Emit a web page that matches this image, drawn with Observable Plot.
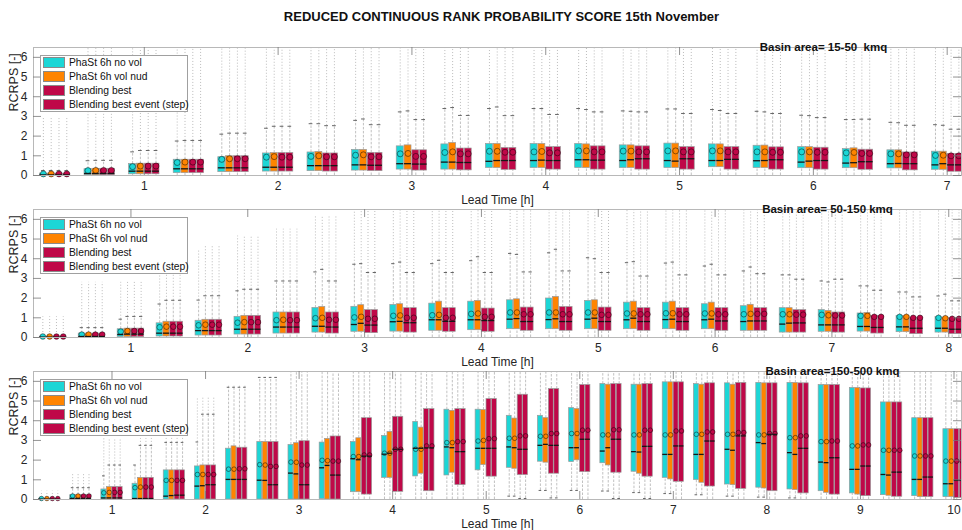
<!DOCTYPE html>
<html><head><meta charset="utf-8">
<script src="https://cdn.jsdelivr.net/npm/d3@7"></script>
<script src="https://cdn.jsdelivr.net/npm/@observablehq/plot@0.6"></script>
<style>
body{margin:0;background:#fff;font-family:"Liberation Sans",Arial,Helvetica,sans-serif;}
#chart{position:relative;width:962px;height:530px;overflow:hidden;background:#fff;}
#title{height:32px;line-height:34px;font-weight:bold;font-size:13px;text-align:center;padding-left:41px;box-sizing:border-box;color:#111;}
.panel{position:relative;width:962px;height:162px;}
.panel svg{position:absolute;left:0;top:0;}
.legend{position:absolute;left:40px;top:23px;width:146px;height:55px;background:#fff;border:1px solid #a0a0a0;font-size:10.3px;color:#111;z-index:2;}
.legend .row{position:absolute;left:2px;height:14px;display:flex;align-items:center;white-space:nowrap;}
.legend .sw{width:20px;height:9px;border:1px solid #8a8a8a;margin-right:4px;}
</style></head>
<body>
<div id="chart"><div id="title">REDUCED CONTINUOUS RANK PROBABILITY SCORE 15th November</div></div>
<script>
const SERIES = ["PhaSt 6h no vol","PhaSt 6h vol nud","Blending best","Blending best event (step)"];
const COLORS = ["#1cd6d6","#ff8400","#bf0848","#bf0848"];
const YTICKS = [0,1,2,3,4,5,6];
const BASINS = ["Basin area= 15-50  kmq","Basin area= 50-150 kmq","Basin area=150-500 kmq"];

// lead times (minutes) of each group of boxes
const P1_LEAD = [20,40,60,80,100,120,140,160,180,200,220,240,260,280,300,320,340,360,380,400,420];
const P2_LEAD = [20,40,60,80,100,120,140,160,180,200,220,240,260,280,300,320,340,360,380,400,420,440,460,480];
const P3_LEAD = [20,40,60,80,100,120,140,160,180,200,220,240,260,280,300,320,340,360,380,400,420,440,460,480,500,520,540,560,580,600];
const P1_HOURS = [1,2,3,4,5,6,7];
const P2_HOURS = [1,2,3,4,5,6,7,8];
const P3_HOURS = [1,2,3,4,5,6,7,8,9,10];

// ---- Panel 1 : Basin area 15-50 kmq ; each row [no vol, vol nud, blending best, blending best event]
const P1_Q1 = [[0,0,0,0],[0.02,0.02,0.02,0.02],[0.06,0.06,0.06,0.06],[0.12,0.12,0.12,0.12],[0.17,0.17,0.17,0.17],[0.2,0.2,0.2,0.2],[0.22,0.22,0.2,0.2],[0.25,0.25,0.22,0.22],[0.3,0.3,0.25,0.25],[0.3,0.3,0.26,0.26],[0.38,0.38,0.28,0.28],[0.38,0.38,0.3,0.3],[0.38,0.38,0.3,0.3],[0.38,0.38,0.3,0.3],[0.38,0.38,0.3,0.3],[0.42,0.42,0.3,0.3],[0.38,0.38,0.3,0.3],[0.37,0.37,0.3,0.3],[0.37,0.37,0.29,0.29],[0.36,0.36,0.26,0.26],[0.29,0.29,0.19,0.19]];
const P1_MED = [[0.03,0.03,0.03,0.03],[0.1,0.1,0.1,0.1],[0.22,0.22,0.22,0.22],[0.34,0.34,0.34,0.34],[0.39,0.39,0.39,0.39],[0.42,0.42,0.42,0.42],[0.5,0.5,0.5,0.5],[0.54,0.54,0.52,0.52],[0.6,0.6,0.58,0.58],[0.68,0.68,0.66,0.66],[0.72,0.76,0.76,0.76],[0.76,0.78,0.76,0.76],[0.8,0.8,0.78,0.78],[0.76,0.8,0.85,0.85],[0.76,0.73,0.85,0.85],[0.76,0.76,0.82,0.82],[0.75,0.76,0.8,0.8],[0.68,0.73,0.76,0.76],[0.63,0.65,0.7,0.7],[0.6,0.61,0.6,0.6],[0.54,0.6,0.54,0.54]];
const P1_Q3 = [[0.1,0.1,0.1,0.1],[0.32,0.34,0.34,0.34],[0.58,0.6,0.6,0.6],[0.8,0.8,0.8,0.8],[0.93,0.98,0.98,0.98],[1.12,1.14,1.14,1.14],[1.17,1.2,1.12,1.12],[1.3,1.3,1.15,1.15],[1.48,1.53,1.28,1.28],[1.58,1.65,1.37,1.37],[1.6,1.6,1.4,1.4],[1.6,1.6,1.44,1.44],[1.6,1.58,1.48,1.48],[1.53,1.53,1.48,1.48],[1.62,1.62,1.44,1.44],[1.58,1.58,1.44,1.44],[1.51,1.52,1.43,1.43],[1.44,1.44,1.41,1.41],[1.34,1.38,1.31,1.31],[1.28,1.28,1.17,1.17],[1.21,1.21,1.1,1.1]];
const P1_MEAN = [[0.08,0.08,0.08,0.08],[0.25,0.26,0.26,0.26],[0.45,0.48,0.48,0.48],[0.66,0.68,0.68,0.68],[0.82,0.85,0.85,0.85],[0.93,0.96,0.93,0.93],[0.97,1.0,0.95,0.95],[1.03,1.05,0.95,0.95],[1.1,1.12,0.97,0.97],[1.17,1.2,1.1,1.1],[1.23,1.23,1.18,1.18],[1.2,1.22,1.15,1.15],[1.25,1.25,1.2,1.2],[1.24,1.24,1.2,1.2],[1.25,1.25,1.2,1.2],[1.25,1.25,1.2,1.2],[1.2,1.2,1.18,1.18],[1.2,1.2,1.18,1.18],[1.15,1.17,1.12,1.12],[1.1,1.1,1.05,1.05],[1.02,1.03,1.0,1.0]];
const P1_HI = [[0.25,0.25,0.25,0.25],[0.75,0.77,0.77,0.77],[1.2,1.27,1.27,1.27],[1.75,1.78,1.78,1.78],[2.1,2.15,2.15,2.15],[2.4,2.5,2.5,2.5],[2.63,2.63,2.53,2.53],[2.8,2.87,2.58,2.58],[3.23,3.28,2.84,2.84],[3.4,3.45,3.05,3.05],[3.4,3.48,3.04,3.04],[3.4,3.4,3.1,3.1],[3.4,3.35,3.23,3.23],[3.28,3.26,3.23,3.23],[3.38,3.38,3.15,3.15],[3.35,3.3,3.15,3.15],[3.26,3.23,3.15,3.15],[3.06,3.04,2.94,2.94],[2.84,2.84,2.86,2.86],[2.7,2.68,2.55,2.55],[2.58,2.55,2.35,2.35]];
const P1_MAX = [[2.9,2.9,2.9,2.9],[7,7,7,7],[7,7,7,7],[7,7,7,7],[7,7,7,7],[7,7,7,7],[7,7,7,7],[7,7,7,7],[7,7,7,7],[7,7,7,7],[7,7,7,7],[7,7,7,7],[7,7,7,7],[7,7,7,7],[7,7,7,7],[7,7,7,7],[7,7,7,7],[7,7,7,7],[7,7,7,7],[7,7,7,7],[7,7,7,7]];

// ---- Panel 2 : Basin area 50-150 kmq
const P2_Q1 = [[0,0,0,0],[0,0,0,0],[0.02,0.02,0.02,0.02],[0.05,0.05,0.05,0.05],[0.1,0.1,0.1,0.1],[0.15,0.15,0.15,0.15],[0.2,0.2,0.2,0.2],[0.25,0.25,0.2,0.2],[0.29,0.29,0.22,0.22],[0.3,0.3,0.25,0.25],[0.34,0.34,0.29,0.29],[0.37,0.37,0.29,0.29],[0.42,0.42,0.34,0.34],[0.42,0.42,0.34,0.34],[0.42,0.42,0.34,0.34],[0.42,0.42,0.34,0.34],[0.42,0.42,0.34,0.34],[0.42,0.42,0.34,0.34],[0.34,0.34,0.34,0.34],[0.25,0.25,0.25,0.25],[0.29,0.29,0.25,0.25],[0.3,0.3,0.2,0.2],[0.27,0.27,0.17,0.17],[0.25,0.25,0.17,0.17]];
const P2_MED = [[0.02,0.02,0.02,0.02],[0.05,0.05,0.05,0.05],[0.15,0.17,0.17,0.17],[0.22,0.22,0.22,0.22],[0.35,0.35,0.35,0.35],[0.42,0.42,0.42,0.42],[0.53,0.53,0.53,0.53],[0.57,0.57,0.53,0.53],[0.66,0.72,0.63,0.63],[0.8,0.82,0.75,0.75],[0.9,0.9,0.82,0.82],[0.9,0.9,0.86,0.86],[0.93,0.96,0.81,0.81],[0.91,0.95,0.81,0.81],[0.93,0.98,0.81,0.81],[0.9,0.98,0.81,0.81],[0.91,0.93,0.81,0.81],[0.9,0.93,0.84,0.84],[0.81,0.84,0.84,0.84],[0.68,0.73,0.74,0.74],[0.64,0.64,0.64,0.64],[0.56,0.56,0.51,0.51],[0.54,0.54,0.47,0.47],[0.47,0.47,0.42,0.42]];
const P2_Q3 = [[0.05,0.05,0.05,0.05],[0.2,0.2,0.2,0.2],[0.42,0.45,0.45,0.45],[0.72,0.8,0.8,0.8],[0.85,0.9,0.9,0.9],[1.05,1.1,1.1,1.1],[1.27,1.27,1.27,1.27],[1.5,1.55,1.27,1.27],[1.56,1.64,1.39,1.39],[1.65,1.69,1.49,1.49],[1.72,1.82,1.49,1.49],[1.82,1.86,1.47,1.47],[1.89,1.94,1.52,1.52],[1.98,2.06,1.55,1.55],[1.86,1.89,1.52,1.52],[1.77,1.82,1.49,1.49],[1.77,1.82,1.49,1.49],[1.69,1.77,1.49,1.49],[1.59,1.66,1.49,1.49],[1.49,1.49,1.39,1.39],[1.39,1.35,1.27,1.27],[1.22,1.25,1.1,1.1],[1.1,1.1,1.01,1.01],[1.05,1.01,0.98,0.98]];
const P2_MEAN = [[0.05,0.05,0.05,0.05],[0.15,0.15,0.15,0.15],[0.3,0.33,0.33,0.33],[0.52,0.55,0.55,0.55],[0.62,0.65,0.65,0.65],[0.75,0.78,0.78,0.78],[0.88,0.9,0.88,0.88],[0.98,1.0,0.9,0.9],[1.02,1.05,0.95,0.95],[1.1,1.12,1.0,1.0],[1.13,1.15,1.0,1.0],[1.2,1.22,1.05,1.05],[1.27,1.27,1.18,1.18],[1.27,1.27,1.18,1.18],[1.27,1.27,1.15,1.15],[1.22,1.22,1.18,1.18],[1.23,1.23,1.18,1.18],[1.22,1.22,1.18,1.18],[1.18,1.2,1.2,1.2],[1.18,1.18,1.16,1.16],[1.15,1.13,1.12,1.12],[1.1,1.1,1.05,1.05],[1.05,1.05,1.0,1.0],[1.0,0.98,0.95,0.95]];
const P2_HI = [[0.1,0.1,0.1,0.1],[0.5,0.5,0.5,0.5],[0.93,1.07,1.07,1.07],[1.7,1.89,1.89,1.89],[1.9,2.12,2.12,2.12],[2.37,2.45,2.45,2.45],[2.87,2.87,2.87,2.87],[3.33,3.46,2.87,2.87],[3.72,3.75,3.3,3.3],[3.75,3.83,3.3,3.3],[3.75,3.92,3.3,3.3],[3.9,4.1,3.3,3.3],[4.27,4.22,3.33,3.33],[4.3,4.48,3.38,3.38],[4.05,4.0,3.3,3.3],[3.8,3.85,3.12,3.12],[3.78,3.83,3.18,3.18],[3.63,3.72,3.18,3.18],[3.38,3.58,3.24,3.24],[3.18,3.18,2.96,2.96],[2.87,2.82,2.96,2.96],[2.62,2.62,2.4,2.4],[2.31,2.31,2.06,2.06],[2.11,2.2,1.86,1.86]];
const P2_MAX = [[1.05,1.05,1.05,1.05],[2.8,2.8,2.8,2.8],[2.8,2.8,2.8,2.8],[4.4,4.65,4.65,4.65],[4.4,4.65,4.65,4.65],[5.15,5.15,5.15,5.15],[5.5,5.5,5.5,5.5],[6.2,6.2,6.2,6.2],[7,7,7,7],[7,7,7,7],[7,7,7,7],[7,7,7,7],[7,7,7,7],[7,7,7,7],[7,7,7,7],[7,7,7,7],[7,7,7,7],[7,7,7,7],[7,7,7,7],[7,7,7,7],[7,7,7,7],[7,7,7,7],[7,7,7,7],[7,7,7,7]];

// ---- Panel 3 : Basin area 150-500 kmq
const P3_LO = [[0,0,0,0],[0,0,0,0],[0,0,0,0],[0,0,0,0],[0,0,0,0],[0,0,0,0],[0,0,0,0],[0,0,0,0],[0,0,0,0],[0,0,0,0],[0,0,0,0],[0,0,0,0],[0,0,0,0],[0,0,0,0],[0,0,0,0],[0.17,0.17,0.05,0.05],[0.46,0.46,0.08,0.08],[0.46,0.46,0,0],[0.43,0.43,0.05,0.05],[0.35,0.35,0.05,0.05],[0.3,0.3,0,0],[0.24,0.24,0,0],[0.17,0.17,0,0],[0.12,0.12,0,0],[0.08,0.08,0,0],[0,0,0,0],[0,0,0,0],[0,0,0,0],[0,0,0,0],[0,0,0,0]];
const P3_Q1 = [[0,0,0,0],[0,0,0,0],[0,0,0,0],[0,0,0,0],[0,0,0,0],[0,0,0,0],[0,0,0,0],[0,0,0,0],[0,0,0,0],[0.02,0,0,0],[0.37,0.37,0.25,0.25],[1.1,1.1,0.39,0.39],[1.17,1.31,0.42,0.42],[1.22,1.36,0.73,0.73],[1.48,1.75,1.16,1.16],[1.61,1.56,1.24,1.24],[1.92,1.87,1.31,1.31],[1.9,1.99,1.39,1.39],[1.84,1.73,1.36,1.36],[1.41,1.31,1.16,1.16],[1.1,1.02,0.9,0.9],[0.99,0.85,0.66,0.66],[0.76,0.73,0.54,0.54],[0.6,0.56,0.42,0.42],[0.51,0.48,0.31,0.31],[0.42,0.34,0.25,0.25],[0.31,0.25,0.17,0.17],[0.22,0.19,0.14,0.14],[0.17,0.12,0.12,0.12],[0.12,0.12,0.08,0.08]];
const P3_MED = [[0.02,0.02,0.02,0.02],[0.05,0.05,0.05,0.05],[0.08,0.08,0.08,0.08],[0.05,0.05,0.05,0.05],[0.17,0.2,0.22,0.22],[0.68,0.7,0.75,0.75],[1.02,1.02,1.02,1.02],[0.98,0.97,0.75,0.75],[1.34,1.3,0.75,0.75],[1.61,1.73,1.24,1.24],[2.07,2.02,2.2,2.2],[2.3,2.35,2.55,2.55],[2.6,2.6,2.62,2.62],[2.67,2.63,2.43,2.43],[2.6,2.6,2.6,2.6],[2.67,2.63,2.55,2.55],[2.75,2.8,2.75,2.75],[2.63,2.63,3.06,3.06],[2.46,2.63,3.06,3.06],[2.43,2.41,2.7,2.7],[2.29,2.29,2.72,2.72],[2.29,2.29,2.97,2.97],[2.55,2.5,3.23,3.23],[2.89,2.84,3.31,3.31],[2.38,2.29,2.6,2.6],[1.9,1.87,2.12,2.12],[1.53,1.53,1.7,1.7],[1.27,1.24,1.39,1.39],[1.02,1.02,1.14,1.14],[0.8,0.8,0.97,0.97]];
const P3_Q3 = [[0.04,0.04,0.04,0.04],[0.22,0.22,0.22,0.22],[0.51,0.63,0.63,0.63],[0.8,1.1,1.1,1.1],[1.48,1.48,1.48,1.48],[1.68,1.73,1.73,1.73],[2.58,2.7,2.63,2.63],[2.92,2.92,2.92,2.92],[2.77,2.86,2.96,2.96],[2.89,3.08,3.2,3.2],[2.92,3.11,4.13,4.13],[3.23,3.43,4.2,4.2],[3.94,3.65,4.59,4.59],[4.56,4.5,4.59,4.59],[4.56,4.54,5.1,5.1],[4.25,4.11,5.32,5.32],[4.25,4.13,5.61,5.61],[4.64,4.59,5.81,5.81],[5.86,5.83,5.86,5.86],[5.83,5.83,5.86,5.86],[5.95,5.95,5.95,5.95],[5.86,5.83,5.9,5.9],[5.9,5.83,5.92,5.92],[5.92,5.9,5.9,5.9],[5.92,5.92,5.9,5.9],[5.81,5.81,5.81,5.81],[5.66,5.66,5.64,5.64],[4.93,4.93,4.93,4.93],[4.13,4.13,4.13,4.13],[3.57,3.57,3.57,3.57]];
const P3_MEAN = [[0.05,0.05,0.05,0.05],[0.18,0.18,0.18,0.18],[0.34,0.36,0.36,0.36],[0.6,0.63,0.63,0.63],[0.97,0.97,0.97,0.97],[1.27,1.27,1.27,1.27],[1.54,1.54,1.56,1.56],[1.77,1.75,1.68,1.68],[1.9,1.89,1.75,1.75],[1.99,1.97,1.95,1.95],[2.18,2.18,2.26,2.26],[2.35,2.35,2.55,2.55],[2.55,2.55,2.72,2.72],[2.89,2.89,2.94,2.94],[2.97,3.0,3.09,3.09],[3.11,3.11,3.23,3.23],[3.21,3.21,3.35,3.35],[3.35,3.35,3.52,3.52],[3.28,3.28,3.54,3.54],[3.28,3.28,3.52,3.52],[3.28,3.28,3.48,3.48],[3.31,3.31,3.43,3.43],[3.31,3.31,3.4,3.4],[3.28,3.28,3.35,3.35],[3.14,3.14,3.23,3.23],[2.94,2.94,2.97,2.97],[2.72,2.72,2.77,2.77],[2.5,2.5,2.5,2.5],[2.21,2.21,2.21,2.21],[1.95,1.95,1.95,1.95]];
const P3_HI = [[0.1,0.1,0.1,0.1],[0.6,0.6,0.6,0.6],[1.2,1.75,1.75,1.75],[1.75,2.75,2.75,2.75],[2.9,2.9,2.9,2.9],[2.92,4.33,4.33,4.33],[5.7,5.7,5.7,5.7],[6.2,6.2,6.2,6.2],[7,7,7,7],[7,7,7,7],[7,7,7,7],[7,7,7,7],[7,7,7,7],[7,7,7,7],[7,7,7,7],[7,7,7,7],[7,7,7,7],[7,7,7,7],[7,7,7,7],[7,7,7,7],[7,7,7,7],[7,7,7,7],[7,7,7,7],[7,7,7,7],[7,7,7,7],[7,7,7,7],[7,7,7,7],[7,7,7,7],[7,7,7,7],[7,7,7,7]];
const P3_MAX = [[0.42,0.42,0.42,0.42],[1.27,1.27,1.27,1.27],[3.1,3.1,3.1,3.1],[1.75,3.1,3.1,3.1],[5.2,5.2,5.2,5.2],[5.2,5.2,5.2,5.2],[5.75,5.75,5.75,5.75],[6.2,6.2,6.2,6.2],[7,7,7,7],[7,7,7,7],[7,7,7,7],[7,7,7,7],[7,7,7,7],[7,7,7,7],[7,7,7,7],[7,7,7,7],[7,7,7,7],[7,7,7,7],[7,7,7,7],[7,7,7,7],[7,7,7,7],[7,7,7,7],[7,7,7,7],[7,7,7,7],[7,7,7,7],[7,7,7,7],[7,7,7,7],[7,7,7,7],[7,7,7,7],[7,7,7,7]];

const PITCH = 0.0583, BW = 0.052, CAP = 0.014;
const W = 962, ML = 33, MR = 1, MT = 15, MB = 19, H = 162, YMAX = 6.5, TICKPX = 8;

function buildRows(lead, s) {
  const out = [];
  lead.forEach((m, i) => {
    const t = m / 60;
    for (let k = 0; k < 4; k++) {
      out.push({
        t, x: t + (k - 1.5) * PITCH, series: SERIES[k],
        lo: s.lo ? s.lo[i][k] : 0, q1: s.q1[i][k], med: s.med[i][k], q3: s.q3[i][k],
        mean: s.mean[i][k], hi: s.hi[i][k], max: s.max[i][k]
      });
    }
  });
  return out;
}

const panels = [
  {lead: P1_LEAD, hours: P1_HOURS, dom: [0.172, 7.107], r: 3, basin: BASINS[0], bdx: 326,
   s: {q1: P1_Q1, med: P1_MED, q3: P1_Q3, mean: P1_MEAN, hi: P1_HI, max: P1_MAX}},
  {lead: P2_LEAD, hours: P2_HOURS, dom: [0.166, 8.109], r: 2.8, basin: BASINS[1], bdx: 330,
   s: {q1: P2_Q1, med: P2_MED, q3: P2_Q3, mean: P2_MEAN, hi: P2_HI, max: P2_MAX}},
  {lead: P3_LEAD, hours: P3_HOURS, dom: [0.161, 10.08], r: 2.3, basin: BASINS[2], bdx: 335,
   s: {lo: P3_LO, q1: P3_Q1, med: P3_MED, q3: P3_Q3, mean: P3_MEAN, hi: P3_HI, max: P3_MAX}}
];

const chart = document.getElementById("chart");
panels.forEach(p => {
  const rows = buildRows(p.lead, p.s);
  const pxX = (W - ML - MR) / (p.dom[1] - p.dom[0]);
  const pxY = (H - MT - MB) / YMAX;
  const tlx = TICKPX / pxX, tly = TICKPX / pxY;
  const [x0, x1] = p.dom;
  const svg = Plot.plot({
    width: W, height: H, marginLeft: ML, marginRight: MR, marginTop: MT, marginBottom: MB,
    style: {fontFamily: '"Liberation Sans", Arial, Helvetica, sans-serif', fontSize: "12px", color: "#262626", background: "transparent", overflow: "visible"},
    x: {domain: p.dom, ticks: p.hours, tickSize: 0, tickPadding: 6, label: null, tickFormat: d => String(d)},
    y: {domain: [0, YMAX], clamp: true, ticks: YTICKS, tickSize: 0, tickPadding: 6, label: null, tickFormat: d => String(d)},
    color: {domain: SERIES, range: COLORS},
    marks: [
      // outliers
      Plot.ruleX(rows.filter(d => d.max > d.hi), {x: "x", y1: "hi", y2: "max", stroke: "#b4b4b4", strokeWidth: 0.9, strokeDasharray: "1,2"}),
      // whiskers
      Plot.ruleX(rows, {x: "x", y1: "q3", y2: "hi", stroke: "#a6a6a6", strokeWidth: 0.7, strokeDasharray: "2.5,1.5"}),
      Plot.ruleX(rows, {x: "x", y1: "lo", y2: "q1", stroke: "#a6a6a6", strokeWidth: 0.7, strokeDasharray: "2.5,1.5"}),
      // caps
      Plot.ruleY(rows.filter(d => d.hi < YMAX && d.hi > d.q3), {y: "hi", x1: d => d.x - CAP, x2: d => d.x + CAP, stroke: "#666", strokeWidth: 1}),
      Plot.ruleY(rows, {y: "lo", x1: d => d.x - CAP, x2: d => d.x + CAP, stroke: "#666", strokeWidth: 1}),
      // boxes
      Plot.rect(rows, {x1: d => d.x - BW / 2, x2: d => d.x + BW / 2, y1: "q1", y2: "q3", fill: "series", stroke: "#9a9a9a", strokeWidth: 0.7}),
      // means (circle filled with the box colour, darker outline)
      Plot.dot(rows, {x: "x", y: "mean", r: p.r, fill: "series", stroke: "#000", strokeOpacity: 0.5, strokeWidth: 0.9}),
      // medians (drawn over the mean circles)
      Plot.ruleY(rows, {y: "med", x1: d => d.x - BW / 2, x2: d => d.x + BW / 2, stroke: "#161616", strokeWidth: 1.3}),
      // frame and inward ticks
      Plot.frame({stroke: "#b8b8b8", strokeWidth: 1}),
      Plot.ruleX(p.hours, {x: d => d, y1: 0, y2: tly, stroke: "#777", strokeWidth: 0.8}),
      Plot.ruleX(p.hours, {x: d => d, y1: YMAX - tly, y2: YMAX, stroke: "#777", strokeWidth: 0.8}),
      Plot.ruleY(YTICKS, {y: d => d, x1: x0, x2: x0 + tlx, stroke: "#777", strokeWidth: 0.8}),
      Plot.ruleY(YTICKS, {y: d => d, x1: x1 - tlx, x2: x1, stroke: "#777", strokeWidth: 0.8}),
      // labels
      Plot.text(["Lead Time [h]"], {frameAnchor: "bottom", dy: 28, fontSize: 12, fill: "#262626"}),
      Plot.text(["RCRPS [-]"], {frameAnchor: "left", dx: -20, rotate: -90, fontSize: 12.5, fill: "#262626"}),
      Plot.text([p.basin], {frameAnchor: "top", dx: p.bdx, dy: -5, fontSize: 11.5, fontWeight: "bold", fill: "#111"})
    ]
  });
  const wrap = document.createElement("div");
  wrap.className = "panel";
  wrap.appendChild(svg);
  const leg = document.createElement("div");
  leg.className = "legend";
  SERIES.forEach((name, k) => {
    const row = document.createElement("div");
    row.className = "row";
    row.style.top = (-0.7 + k * 14.2) + "px";
    const sw = document.createElement("span");
    sw.className = "sw";
    sw.style.background = COLORS[k];
    const lab = document.createElement("span");
    lab.textContent = name;
    row.appendChild(sw); row.appendChild(lab);
    leg.appendChild(row);
  });
  wrap.appendChild(leg);
  chart.appendChild(wrap);
});
</script>
</body></html>
